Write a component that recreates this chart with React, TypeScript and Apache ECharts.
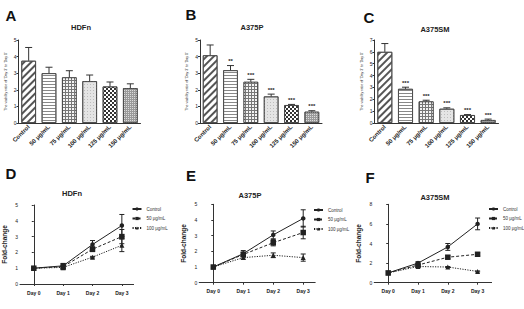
import React, { useEffect, useRef } from "react";
import * as echarts from "echarts";

// ---------- data ----------
const barCategories = ["Control", "50 μg/mL", "75 μg/mL", "100 μg/mL", "125 μg/mL", "150 μg/mL"];

const hdfnBar = [3.75, 3.0, 2.75, 2.52, 2.2, 2.1];
const hdfnBarErr = [0.8, 0.36, 0.4, 0.37, 0.27, 0.26];
const hdfnStars = ["", "", "", "", "", ""];

const a375pBar = [4.08, 3.18, 2.48, 1.6, 1.08, 0.68];
const a375pBarErr = [0.62, 0.28, 0.15, 0.14, 0.04, 0.06];
const a375pStars = ["", "**", "***", "***", "***", "***"];

const a375smBar = [6.0, 2.88, 1.82, 1.2, 0.67, 0.25];
const a375smBarErr = [0.7, 0.14, 0.1, 0.08, 0.04, 0.08];
const a375smStars = ["", "***", "***", "***", "***", "***"];

const barYTicksAB = [0, 1, 2, 3, 4, 5];
const barYTicksC = [0, 1, 2, 3, 4, 5, 6, 7];

const days = ["Day 0", "Day 1", "Day 2", "Day 3"];
const lineNames = ["Control", "50 μg/mL", "100 μg/mL"];

const hdfnControl = [1, 1.15, 2.5, 3.7];
const hdfnControlErr = [0, 0.15, 0.25, 0.7];
const hdfn50 = [1, 1.1, 2.2, 3.0];
const hdfn50Err = [0, 0.2, 0.15, 0.45];
const hdfn100 = [1, 1.05, 1.7, 2.45];
const hdfn100Err = [0, 0.1, 0.05, 0.4];

const a375pControl = [1, 1.85, 3.05, 4.1];
const a375pControlErr = [0, 0.2, 0.25, 0.55];
const a375p50 = [1, 1.8, 2.55, 3.2];
const a375p50Err = [0, 0.15, 0.2, 0.4];
const a375p100 = [1, 1.6, 1.75, 1.6];
const a375p100Err = [0, 0.1, 0.15, 0.23];

const a375smControl = [1, 2.0, 3.65, 6.0];
const a375smControlErr = [0, 0.15, 0.35, 0.6];
const a375sm50 = [1, 1.8, 2.6, 2.9];
const a375sm50Err = [0, 0.1, 0.15, 0.15];
const a375sm100 = [1, 1.65, 1.6, 1.15];
const a375sm100Err = [0, 0.1, 0.05, 0.05];

const lineYTicksDE = [0, 1, 2, 3, 4, 5];
const lineYTicksF = [0, 2, 4, 6, 8];

// ---------- styles ----------
const FONT = "'Liberation Sans', Arial, sans-serif";
const INK = "#222";
const AXIS = "#333";

const barFills = ["#ffffff", "#ffffff", "#777777", "#e4e4e4", "#ffffff", "#9a9a9a"];
const barDecals: any[] = [
  { symbol: "rect", color: "#555", dashArrayX: [1, 0], dashArrayY: [1.2, 2.2], rotation: -Math.PI / 4 },
  { symbol: "rect", color: "#888", dashArrayX: [1, 0], dashArrayY: [1, 1.4], rotation: 0 },
  { symbol: "rect", color: "#f4f4f4", dashArrayX: [1.8, 1], dashArrayY: [1.8, 1], rotation: 0 },
  { symbol: "rect", color: "#bdbdbd", dashArrayX: [0.8, 1.2], dashArrayY: [0.8, 1.2], rotation: 0 },
  { symbol: "rect", color: "#333", dashArrayX: [[2, 2], [0, 2, 2, 0]], dashArrayY: [2, 0], rotation: 0 },
  { symbol: "rect", color: "#dcdcdc", dashArrayX: [1, 1], dashArrayY: [1, 1], rotation: 0 },
];

const lineSymbols = ["circle", "rect", "triangle"];
const lineSymbolSizes = [4.5, 5.5, 5];
const lineTypes: any[] = ["solid", [3, 2], [1.2, 1.3]];

const App: React.FC = () => {
  const ref = useRef<HTMLDivElement>(null);

  useEffect(() => {
    if (!ref.current) return;
    const chart = echarts.init(ref.current, undefined, { renderer: "svg" });

    const grids = [
      { left: 18.5, top: 40, width: 122, height: 83 },
      { left: 200, top: 40, width: 122, height: 83 },
      { left: 374.5, top: 40, width: 124, height: 83 },
      { left: 17.6, top: 205, width: 116, height: 79 },
      { left: 199.2, top: 204.3, width: 116, height: 78.4 },
      { left: 374.2, top: 204.3, width: 117.4, height: 78.4 },
    ];

    const xAxes: any[] = [];
    const yAxes: any[] = [];
    const series: any[] = [];

    const barPanels = [
      { vals: hdfnBar, err: hdfnBarErr, stars: hdfnStars, ticks: barYTicksAB },
      { vals: a375pBar, err: a375pBarErr, stars: a375pStars, ticks: barYTicksAB },
      { vals: a375smBar, err: a375smBarErr, stars: a375smStars, ticks: barYTicksC },
    ];

    barPanels.forEach((p, i) => {
      xAxes.push({
        type: "category",
        gridIndex: i,
        data: barCategories,
        axisLine: { lineStyle: { color: AXIS, width: 1 } },
        axisTick: { alignWithLabel: true, length: 2, lineStyle: { color: AXIS } },
        axisLabel: { rotate: 45, fontSize: 6, fontWeight: "bold", color: INK, margin: 3, interval: 0, fontFamily: FONT },
      });
      yAxes.push({
        type: "value",
        gridIndex: i,
        min: p.ticks[0],
        max: p.ticks[p.ticks.length - 1],
        interval: p.ticks[1] - p.ticks[0],
        axisLine: { show: true, lineStyle: { color: AXIS, width: 1 } },
        axisTick: { show: true, length: 2, lineStyle: { color: AXIS } },
        axisLabel: { fontSize: 5, color: INK, margin: 2, fontFamily: FONT },
        splitLine: { show: false },
        name: "The viability ratio of 'Day 3' to 'Day 0'",
        nameLocation: "middle",
        nameGap: 11,
        nameRotate: 90,
        nameTextStyle: { fontSize: 3.6, color: INK, fontFamily: FONT },
      });
      series.push({
        type: "bar",
        xAxisIndex: i,
        yAxisIndex: i,
        barWidth: "72%",
        itemStyle: { borderColor: "#444", borderWidth: 0.8 },
        data: p.vals.map((v, k) => ({ value: v, itemStyle: { color: barFills[k], decal: barDecals[k] } })),
        z: 2,
      });
      const stars = p.stars;
      series.push({
        type: "custom",
        xAxisIndex: i,
        yAxisIndex: i,
        silent: true,
        z: 3,
        data: p.vals.map((v, k) => [k, v, v + p.err[k]]),
        renderItem: (params: any, api: any) => {
          const x = api.value(0);
          const lo = api.coord([x, api.value(1)]);
          const hi = api.coord([x, api.value(2)]);
          const st = { stroke: "#333", lineWidth: 1 };
          const children: any[] = [
            { type: "line", shape: { x1: lo[0], y1: lo[1], x2: hi[0], y2: hi[1] }, style: st },
            { type: "line", shape: { x1: hi[0] - 3.5, y1: hi[1], x2: hi[0] + 3.5, y2: hi[1] }, style: st },
          ];
          const s = stars[params.dataIndex];
          if (s) {
            children.push({
              type: "text",
              style: {
                text: s, x: hi[0], y: hi[1] - 1.5, textAlign: "center", textVerticalAlign: "bottom",
                fontSize: 6, fontWeight: "bold", fill: INK, fontFamily: FONT,
              },
            });
          }
          return { type: "group", children };
        },
      });
    });

    const linePanels = [
      { lines: [hdfnControl, hdfn50, hdfn100], errs: [hdfnControlErr, hdfn50Err, hdfn100Err], ticks: lineYTicksDE, max: 3.4 },
      { lines: [a375pControl, a375p50, a375p100], errs: [a375pControlErr, a375p50Err, a375p100Err], ticks: lineYTicksDE, max: 3.4 },
      { lines: [a375smControl, a375sm50, a375sm100], errs: [a375smControlErr, a375sm50Err, a375sm100Err], ticks: lineYTicksF, max: 3.47 },
    ];

    linePanels.forEach((p, j) => {
      const gi = j + 3;
      const dayIdx = days.map((_, k) => k);
      xAxes.push({
        type: "value",
        gridIndex: gi,
        min: -0.47,
        max: p.max,
        axisLine: { show: true, lineStyle: { color: AXIS, width: 1 } },
        axisTick: { show: true, length: 2, customValues: dayIdx, lineStyle: { color: AXIS } },
        axisLabel: {
          customValues: dayIdx, fontSize: 5, fontWeight: "bold", color: INK, margin: 6, fontFamily: FONT,
          formatter: (v: number) => days[Math.round(v)] ?? "",
        },
        splitLine: { show: false },
      });
      yAxes.push({
        type: "value",
        gridIndex: gi,
        min: p.ticks[0],
        max: p.ticks[p.ticks.length - 1],
        interval: p.ticks[1] - p.ticks[0],
        axisLine: { show: true, lineStyle: { color: AXIS, width: 1 } },
        axisTick: { show: true, length: 2, lineStyle: { color: AXIS } },
        axisLabel: { fontSize: 5, color: INK, margin: 2, fontFamily: FONT },
        splitLine: { show: false },
        name: "Fold-change",
        nameLocation: "middle",
        nameGap: 12,
        nameRotate: 90,
        nameTextStyle: { fontSize: 6.5, fontWeight: "bold", color: INK, fontFamily: FONT },
      });
      p.lines.forEach((vals, s) => {
        series.push({
          type: "line",
          name: lineNames[s],
          xAxisIndex: gi,
          yAxisIndex: gi,
          data: vals.map((v, k) => [k, v]),
          symbol: lineSymbols[s],
          symbolSize: lineSymbolSizes[s],
          showAllSymbol: true,
          lineStyle: { color: INK, width: 1, type: lineTypes[s] },
          itemStyle: { color: INK },
          z: 3,
        });
        const err = p.errs[s];
        series.push({
          type: "custom",
          xAxisIndex: gi,
          yAxisIndex: gi,
          silent: true,
          z: 4,
          data: vals.map((v, k) => [k, v - err[k], v + err[k]]).filter((_, k) => err[k] > 0),
          renderItem: (params: any, api: any) => {
            const x = api.value(0);
            const lo = api.coord([x, api.value(1)]);
            const hi = api.coord([x, api.value(2)]);
            const st = { stroke: "#222", lineWidth: 1 };
            return {
              type: "group",
              children: [
                { type: "line", shape: { x1: lo[0], y1: lo[1], x2: hi[0], y2: hi[1] }, style: st },
                { type: "line", shape: { x1: hi[0] - 2.5, y1: hi[1], x2: hi[0] + 2.5, y2: hi[1] }, style: st },
                { type: "line", shape: { x1: lo[0] - 2.5, y1: lo[1], x2: lo[0] + 2.5, y2: lo[1] }, style: st },
              ],
            };
          },
        });
      });
    });

    const legendBase = {
      data: lineNames,
      orient: "vertical",
      itemWidth: 9,
      itemHeight: 4,
      itemGap: 4.5,
      padding: 0,
      selectedMode: false,
      textStyle: { fontSize: 4.5, color: "#333", fontFamily: FONT, lineHeight: 5 },
    };
    const legends = [
      { ...legendBase, left: 131.5, top: 206.5 },
      { ...legendBase, left: 313, top: 207.5 },
      { ...legendBase, left: 488, top: 206.5 },
    ];

    const letters = [
      { t: "A", x: 11, y: 15 },
      { t: "B", x: 191, y: 14 },
      { t: "C", x: 369, y: 17 },
      { t: "D", x: 11, y: 173 },
      { t: "E", x: 191, y: 175 },
      { t: "F", x: 370, y: 177 },
    ];
    const titles = [
      { t: "HDFn", x: 81, y: 27 },
      { t: "A375P", x: 252, y: 27 },
      { t: "A375SM", x: 435, y: 29 },
      { t: "HDFn", x: 72, y: 193 },
      { t: "A375P", x: 250, y: 195 },
      { t: "A375SM", x: 435, y: 197 },
    ];
    const graphic: any[] = [
      ...letters.map((l) => ({
        type: "text",
        x: l.x,
        y: l.y,
        style: { text: l.t, fontSize: 15, fontWeight: "bold", fill: "#111", fontFamily: FONT, textAlign: "center", textVerticalAlign: "middle" },
      })),
      ...titles.map((l) => ({
        type: "text",
        x: l.x,
        y: l.y,
        style: { text: l.t, fontSize: 7.5, fontWeight: "bold", fill: INK, fontFamily: FONT, textAlign: "center", textVerticalAlign: "middle" },
      })),
    ];

    chart.setOption({
      animation: false,
      backgroundColor: "#ffffff",
      textStyle: { fontFamily: FONT },
      grid: grids,
      xAxis: xAxes,
      yAxis: yAxes,
      legend: legends,
      series,
      graphic,
    });

    return () => chart.dispose();
  }, []);

  return <div ref={ref} style={{ position: "fixed", left: 0, top: 0, width: 524, height: 309 }} />;
};

export default App;
